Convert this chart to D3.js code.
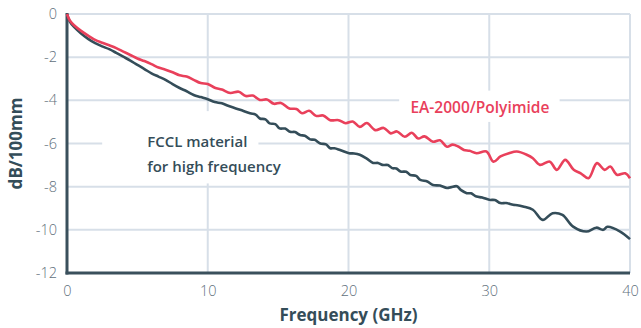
<!DOCTYPE html>
<html>
<head>
<meta charset="utf-8">
<script src="https://cdn.jsdelivr.net/npm/d3@7"></script>
<style>
  body { margin: 0; background: #fff; }
  svg { display: block; font-family: "Open Sans", "Noto Sans", sans-serif; }
</style>
</head>
<body>
<svg id="chart" width="641" height="328"></svg>
<script>
// tick labels
const xTicks = [0, 10, 20, 30, 40];
const yTicks = [0, -2, -4, -6, -8, -10, -12];

// EA-2000/Polyimide
const polyFreq = [0, 0.2, 0.5, 1, 1.5, 2, 2.5, 3, 3.5, 4, 4.5, 5, 5.5, 6, 6.5, 7, 7.5, 8, 8.5, 9, 9.5, 10,
  10.5, 11, 11.6, 12.2, 12.7, 13.2, 13.7, 14.2, 14.7, 15.2, 15.8, 16.3, 16.7, 17.2, 17.7, 18.2, 18.7, 19.3, 19.8,
  20.3, 20.8, 21.3, 21.9, 22.5, 23.0, 23.45, 24.0, 24.5, 24.95, 25.4, 26.0, 26.5, 27.0, 27.4, 27.8, 28.2, 28.6,
  29.1, 29.8, 30.3, 30.8, 31.4, 31.96, 32.7, 33.1, 33.6, 34.3, 34.8, 35.4, 36.0, 36.5, 37.05, 37.65, 38.2, 38.6,
  39.07, 39.66, 40];
const polyLoss = [0, -0.3, -0.52, -0.78, -1.0, -1.2, -1.33, -1.45, -1.58, -1.74, -1.9, -2.06, -2.18, -2.32, -2.48, -2.58, -2.7, -2.84, -2.9, -3.05, -3.2, -3.24,
  -3.42, -3.5, -3.66, -3.6, -3.8, -3.78, -3.98, -3.96, -4.16, -4.12, -4.38, -4.4, -4.6, -4.48, -4.72, -4.7, -4.92, -4.92, -5.06,
  -4.98, -5.23, -5.05, -5.38, -5.28, -5.53, -5.44, -5.69, -5.5, -5.77, -5.67, -5.92, -5.85, -6.15, -6.05, -6.14, -6.3, -6.34,
  -6.45, -6.37, -6.84, -6.6, -6.45, -6.37, -6.53, -6.68, -6.99, -6.84, -7.22, -6.76, -7.22, -7.38, -7.61, -6.91, -7.22, -7.07,
  -7.45, -7.38, -7.61];

// FCCL material for high frequency
const fcclFreq = [0, 0.2, 0.5, 1, 1.5, 2, 2.5, 3, 3.5, 4, 4.5, 5, 5.5, 6, 6.5, 7, 7.5, 8, 8.5, 9, 9.5, 10,
  10.5, 11, 11.6, 12.3, 13, 13.4, 13.7, 14.1, 14.4, 14.8, 15.1, 15.5, 15.85, 16.2, 16.56, 16.9, 17.27, 17.6, 18, 18.4,
  18.7, 19.0, 19.4, 20.04, 20.4, 20.8, 21.3, 21.75, 22.1, 22.4, 22.8, 23.1, 23.4, 23.7, 24.1, 24.4, 24.8, 25.1, 25.6,
  26, 26.5, 27, 27.3, 27.7, 28.0, 28.4, 28.7, 29.1, 29.5, 30, 30.4, 30.8, 31.2, 31.7, 32.0, 32.4, 33.1, 33.8,
  34.5, 35.2, 35.96, 36.9, 37.6, 38.1, 38.4, 39.3, 40];
const fcclLoss = [0, -0.35, -0.6, -0.9, -1.15, -1.35, -1.5, -1.63, -1.8, -1.98, -2.16, -2.36, -2.55, -2.75, -2.9, -3.05, -3.25, -3.43, -3.58, -3.75, -3.85, -3.95,
  -4.08, -4.14, -4.29, -4.44, -4.6, -4.66, -4.84, -4.88, -5.07, -5.1, -5.3, -5.31, -5.46, -5.47, -5.61, -5.64, -5.81, -5.83, -6.0, -6.04,
  -6.22, -6.22, -6.3, -6.45, -6.46, -6.52, -6.7, -6.9, -6.9, -6.99, -7.0, -7.14, -7.16, -7.3, -7.31, -7.46, -7.5, -7.69, -7.76,
  -7.92, -7.95, -8.06, -8.02, -7.98, -8.16, -8.3, -8.31, -8.46, -8.5, -8.61, -8.62, -8.76, -8.76, -8.84, -8.86, -8.92, -9.07, -9.54,
  -9.23, -9.31, -9.85, -10.08, -9.9, -10.0, -9.86, -10.08, -10.43];

const margin = { top: 14, right: 11, bottom: 55, left: 67 };
const width = 641 - margin.left - margin.right;
const height = 328 - margin.top - margin.bottom;

const gridColor = '#d7dfe8';
const axisColor = '#3a505c';
const tickColor = '#5f707c';
const redColor = '#e9405b';
const darkColor = '#344d59';

const x = d3.scaleLinear().domain([0, 40]).range([0, width]);
const y = d3.scaleLinear().domain([-12, 0]).range([height, 0]);

const svg = d3.select('#chart')
  .append('g')
  .attr('transform', `translate(${margin.left}, ${margin.top})`);

// grid
svg.append('g')
  .selectAll('line')
  .data(yTicks.filter(d => d !== -12))
  .enter().append('line')
  .attr('x1', 0).attr('x2', width)
  .attr('y1', d => y(d)).attr('y2', d => y(d))
  .attr('stroke', gridColor).attr('stroke-width', 2);

svg.append('g')
  .selectAll('line')
  .data(xTicks.filter(d => d !== 0))
  .enter().append('line')
  .attr('x1', d => x(d)).attr('x2', d => x(d))
  .attr('y1', 0).attr('y2', height)
  .attr('stroke', gridColor).attr('stroke-width', 2);

// axes (plain hyphen for negatives, like the original)
const yAxis = d3.axisLeft(y).tickValues(yTicks).tickSize(0).tickPadding(10).tickFormat(d => String(d));
const xAxis = d3.axisBottom(x).tickValues(xTicks).tickSize(0).tickPadding(13).tickFormat(d => String(d));

const gy = svg.append('g').call(yAxis);
const gx = svg.append('g').attr('transform', `translate(0, ${height})`).call(xAxis);

[gx, gy].forEach(g => {
  g.select('.domain').remove();
  g.selectAll('text')
    .attr('fill', tickColor)
    .attr('font-size', 14.5)
    .attr('font-family', '"Open Sans", "Noto Sans", sans-serif')
    .attr('font-weight', 300);
});

// white boxes behind the labels
const boxes = [
  { x0: 2.5, x1: 13.6, y0: -4.5, y1: -6.25 },
  { x0: 2.5, x1: 16.3, y0: -6.25, y1: -7.85 },
  { x0: 23.6, x1: 35.0, y0: -3.55, y1: -5.0 }
];
svg.append('g')
  .selectAll('rect')
  .data(boxes)
  .enter().append('rect')
  .attr('x', d => x(d.x0))
  .attr('y', d => y(d.y0))
  .attr('width', d => x(d.x1) - x(d.x0))
  .attr('height', d => y(d.y1) - y(d.y0))
  .attr('fill', '#fff');

// axis lines
svg.append('line')
  .attr('x1', 0).attr('x2', 0).attr('y1', -1).attr('y2', height + 1.5)
  .attr('stroke', axisColor).attr('stroke-width', 3);
svg.append('line')
  .attr('x1', -1.5).attr('x2', width).attr('y1', height).attr('y2', height)
  .attr('stroke', axisColor).attr('stroke-width', 3);

// lines
const line = d3.line()
  .x(d => x(d[0]))
  .y(d => y(d[1]))
  .curve(d3.curveCatmullRom.alpha(0.5));

svg.append('path')
  .datum(d3.zip(fcclFreq, fcclLoss))
  .attr('d', line)
  .attr('fill', 'none')
  .attr('stroke', darkColor)
  .attr('stroke-width', 2.6)
  .attr('stroke-linejoin', 'round');

svg.append('path')
  .datum(d3.zip(polyFreq, polyLoss))
  .attr('d', line)
  .attr('fill', 'none')
  .attr('stroke', redColor)
  .attr('stroke-width', 2.6)
  .attr('stroke-linejoin', 'round');

// series labels
svg.append('text')
  .attr('x', x(24.4)).attr('y', y(-4.6))
  .attr('fill', redColor)
  .attr('font-size', 15.5)
  .attr('font-weight', 600)
  .text('EA-2000/Polyimide');

svg.append('text')
  .attr('x', x(5.7)).attr('y', y(-6.15))
  .attr('fill', darkColor)
  .attr('font-size', 15)
  .attr('font-weight', 600)
  .text('FCCL material');

svg.append('text')
  .attr('x', x(5.7)).attr('y', y(-7.3))
  .attr('fill', darkColor)
  .attr('font-size', 15)
  .attr('font-weight', 600)
  .text('for high frequency');

// axis titles
svg.append('text')
  .attr('transform', `translate(${-45}, ${height / 2}) rotate(-90)`)
  .attr('text-anchor', 'middle')
  .attr('fill', darkColor)
  .attr('font-size', 17)
  .attr('font-weight', 700)
  .text('dB/100mm');

svg.append('text')
  .attr('x', width / 2).attr('y', height + 48)
  .attr('text-anchor', 'middle')
  .attr('fill', darkColor)
  .attr('font-size', 17)
  .attr('font-weight', 700)
  .text('Frequency (GHz)');
</script>
</body>
</html>
